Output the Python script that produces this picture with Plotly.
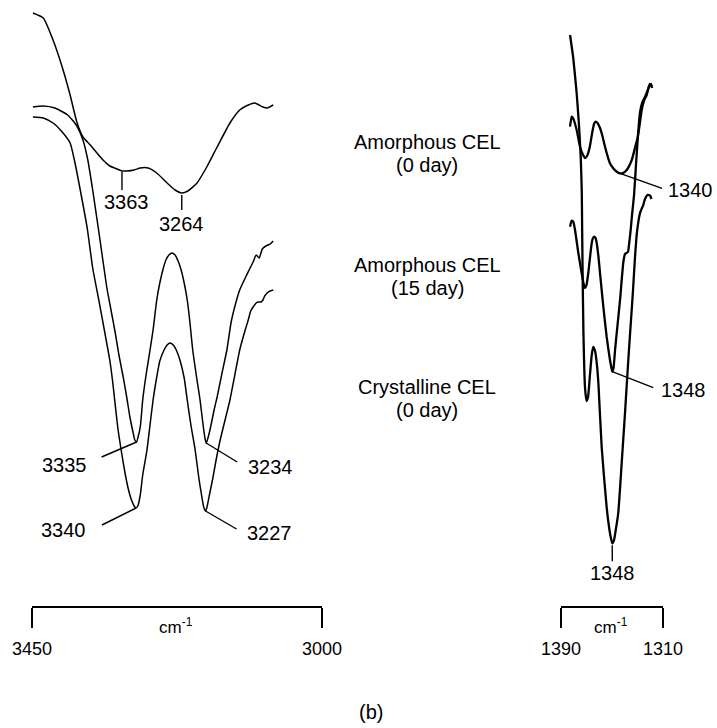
import numpy as np
import plotly.graph_objects as go

# ---------------- data ----------------
# Left panel: O-H stretching region, wavenumber (cm-1) vs transmittance (a.u., stacked)
oh_amorph0_wn = [3509, 3492, 3476, 3461, 3448, 3437, 3427, 3415, 3404, 3394, 3383, 3371, 3363, 3355, 3343, 3333,
                 3320, 3306, 3289, 3276, 3265, 3255, 3240, 3224, 3207, 3186, 3170, 3156, 3145, 3132, 3125, 3115]
oh_amorph0_t = [715, 710, 688, 661, 633, 606, 591, 583, 575, 568, 562, 559, 557, 557, 558, 560,
                560, 555, 545, 538, 535, 537, 545, 561, 581, 605, 618, 623, 625, 621, 620, 623]

oh_amorph15_wn = [3509, 3492, 3473, 3452, 3438, 3427, 3419, 3411, 3399, 3388, 3381, 3374, 3368, 3361, 3355, 3350,
                  3345, 3342, 3339, 3337, 3333, 3329, 3324, 3317, 3312, 3306, 3301, 3296, 3291, 3286, 3281, 3276,
                  3271, 3266, 3261, 3256, 3252, 3247, 3240, 3235, 3230, 3227, 3225, 3222, 3217, 3212, 3207, 3199,
                  3191, 3184, 3176, 3170, 3161, 3153, 3148, 3143, 3138, 3133, 3127, 3120, 3115]
oh_amorph15_t = [621, 622, 620, 613, 603, 588, 568, 538, 488, 441, 418, 395, 373, 351, 330, 311,
                 296, 288, 286, 290, 301, 328, 351, 378, 398, 428, 445, 458, 468, 473, 475, 473,
                 467, 458, 445, 428, 408, 378, 348, 328, 303, 290, 285, 290, 303, 318, 331, 355,
                 378, 406, 426, 438, 450, 460, 466, 473, 470, 479, 482, 484, 487]

oh_cryst_wn = [3509, 3492, 3476, 3461, 3448, 3440, 3432, 3420, 3411, 3401, 3391, 3383, 3378, 3370, 3363, 3358,
               3353, 3348, 3343, 3340, 3337, 3333, 3329, 3322, 3317, 3312, 3306, 3301, 3294, 3289, 3284, 3279,
               3274, 3268, 3261, 3256, 3250, 3243, 3237, 3232, 3229, 3226, 3224, 3219, 3214, 3209, 3202, 3194,
               3186, 3178, 3170, 3161, 3156, 3152, 3148, 3143, 3140, 3135, 3132, 3129, 3125, 3120, 3115]
oh_cryst_t = [611, 610, 605, 596, 585, 565, 540, 500, 460, 428, 395, 368, 345, 301, 273, 255,
              240, 229, 222, 220, 222, 233, 253, 278, 303, 328, 351, 367, 378, 383, 385, 383,
              378, 368, 350, 328, 303, 278, 250, 231, 221, 217, 220, 235, 250, 267, 288, 308,
              328, 353, 378, 398, 408, 417, 421, 425, 426, 426, 428, 432, 435, 437, 438]

# Right panel: 1390-1310 cm-1 region
ch_amorph0_wn = [1382.9, 1381.6, 1380.6, 1377.7, 1375.1, 1372.7, 1371.2, 1369.6, 1367.6, 1365.7, 1364.1, 1362.8,
                 1361.4, 1359.4, 1357.5, 1355.5, 1351.6, 1349.2, 1346.3, 1343.7, 1341.4, 1338.5, 1334.5, 1332.0,
                 1329.8, 1328.0, 1326.7, 1324.7, 1322.8, 1321.5, 1320.2, 1319.0]
ch_amorph0_t = [601.3, 611.3, 610, 598, 581.3, 573, 570, 572, 580, 594, 604, 606.3,
                605, 600, 592, 581.3, 564.7, 560, 556.3, 554.7, 555, 558, 568, 580,
                591, 606, 618, 628, 633, 640, 644, 642]

ch_amorph15_wn = [1382.9, 1381.6, 1380.4, 1379.0, 1376.4, 1373.8, 1372.4, 1371.2, 1370.0, 1368.6, 1367.3, 1365.9,
                  1364.9, 1363.9, 1362.9, 1362.0, 1360.6, 1359.4, 1356.8, 1354.2, 1351.6, 1350.4, 1349.8, 1348.8,
                  1347.6, 1346.3, 1343.7, 1341.1, 1339.8, 1337.5, 1336.7, 1335.5, 1334.3, 1332.7, 1331.2, 1329.6,
                  1328.0, 1326.1, 1324.1, 1322.2, 1320.6, 1319.4, 1318.6]
ch_amorph15_t = [501.3, 507.3, 506.3, 498, 475, 455, 445, 440, 443, 455, 470, 485,
                 490, 491.3, 490, 485, 471, 455, 421.3, 391.3, 368, 360, 356.3, 360,
                 378, 395, 428, 466, 474, 476, 483, 496, 513, 533, 563, 593,
                 616, 626, 631, 637, 642, 644, 640]

ch_cryst_wn = [1382.9, 1380.4, 1377.8, 1375.9, 1374.5, 1373.7, 1373.4, 1373.1, 1372.4, 1371.2, 1370.0, 1368.8,
               1367.3, 1365.9, 1364.7, 1363.3, 1361.8, 1360.6, 1358.1, 1354.2, 1351.6, 1349.8, 1348.4, 1347.3,
               1345.1, 1342.4, 1339.8, 1338.2, 1336.7, 1335.1, 1333.5, 1332.0, 1330.4, 1328.0, 1325.5, 1324.1,
               1322.2, 1320.2, 1319.0]
ch_cryst_t = [693, 670, 636, 603, 570, 536, 498, 461, 395, 341, 327, 331,
              353, 373, 381, 377, 363, 343, 281, 221, 195, 184.7, 188, 196,
              215, 265, 315, 348, 378, 408, 438, 470, 496, 515, 523, 529,
              533, 532.5, 529]

sample_labels = [("Amorphous CEL", "(0 day)"), ("Amorphous CEL", "(15 day)"), ("Crystalline CEL", "(0 day)")]
left_bar_ticks = [3450, 3000]
right_bar_ticks = [1390, 1310]

# ---------------- helpers ----------------
W, H = 717, 728
FONT = "Liberation Sans, Arial, Helvetica, sans-serif"


def trough(wn, t, lo, hi):
    wn = np.asarray(wn, float)
    t = np.asarray(t, float)
    idx = np.flatnonzero((wn >= lo) & (wn <= hi))
    i = idx[np.argmin(t[idx])]
    return float(wn[i]), float(t[i])


def nearest(wn, t, w0):
    wn = np.asarray(wn, float)
    i = int(np.argmin(np.abs(wn - w0)))
    return float(wn[i]), float(t[i])


fig = go.Figure()

for wn, t in [(oh_amorph0_wn, oh_amorph0_t), (oh_amorph15_wn, oh_amorph15_t), (oh_cryst_wn, oh_cryst_t)]:
    fig.add_trace(go.Scatter(x=wn, y=t, xaxis="x", yaxis="y", mode="lines",
                             line=dict(color="black", width=1.5, shape="spline", smoothing=0.5),
                             hoverinfo="skip", showlegend=False))

for wn, t in [(ch_amorph0_wn, ch_amorph0_t), (ch_amorph15_wn, ch_amorph15_t), (ch_cryst_wn, ch_cryst_t)]:
    fig.add_trace(go.Scatter(x=wn, y=t, xaxis="x2", yaxis="y", mode="lines",
                             line=dict(color="black", width=2.3, shape="spline", smoothing=0.5),
                             hoverinfo="skip", showlegend=False))

# invisible trace so the left scale-bar axis is drawn
fig.add_trace(go.Scatter(x=left_bar_ticks, y=[None, None], xaxis="x3", yaxis="y", mode="lines",
                         hoverinfo="skip", showlegend=False))

bar_pos = (H - 607) / H
bar_axis = dict(anchor="free", position=bar_pos, showline=True, linewidth=2, linecolor="black",
                ticks="outside", ticklen=20, tickwidth=2, tickcolor="black", showgrid=False,
                zeroline=False, tickfont=dict(family=FONT, size=18, color="black"),
                ticklabelstandoff=5, fixedrange=True, automargin=False)

fig.update_layout(
    width=W, height=H, margin=dict(l=0, r=0, t=0, b=0, pad=0, autoexpand=False),
    paper_bgcolor="white", plot_bgcolor="rgba(0,0,0,0)", showlegend=False,
    yaxis=dict(domain=[0, 1], range=[0, H], visible=False, fixedrange=True, automargin=False),
    xaxis=dict(domain=[0, 1], range=[3340 + 136 / 0.61, 3340 - 581 / 0.61], visible=False,
               anchor="y", fixedrange=True, automargin=False),
    xaxis2=dict(domain=[561 / W, 663 / W], range=[1390, 1310], tickvals=right_bar_ticks,
                ticktext=[str(v) for v in right_bar_ticks], **bar_axis),
    xaxis3=dict(domain=[32 / W, 322 / W], range=[3450, 3000], tickvals=left_bar_ticks,
                ticktext=[str(v) for v in left_bar_ticks], **bar_axis),
)

label_font = dict(family=FONT, size=20, color="black")
shapes, annos = [], []


def peak_label(xref, pt, text, lead, shift):
    wx, ty = pt
    shapes.append(dict(type="line", xref=xref, yref="y", xsizemode="pixel", ysizemode="pixel",
                       xanchor=wx, yanchor=ty, x0=lead[0], y0=lead[1], x1=lead[2], y1=lead[3],
                       line=dict(color="black", width=1.4)))
    annos.append(dict(x=wx, y=ty, xref=xref, yref="y", text=text, showarrow=False,
                      xshift=shift[0], yshift=shift[1], xanchor="center", yanchor="middle",
                      font=label_font))


peak_label("x", nearest(oh_amorph0_wn, oh_amorph0_t, 3363), "3363", (0, -1, 0, -19), (5, -31))
peak_label("x", trough(oh_amorph0_wn, oh_amorph0_t, 3230, 3300), "3264", (0, -2, 0, -17), (0, -31))
peak_label("x", trough(oh_amorph15_wn, oh_amorph15_t, 3300, 3400), "3335", (0, 0, -35, -15), (-72, -23))
peak_label("x", trough(oh_cryst_wn, oh_cryst_t, 3300, 3400), "3340", (0, 0, -34, -17), (-73, -22))
peak_label("x", trough(oh_amorph15_wn, oh_amorph15_t, 3180, 3260), "3234", (0, 0, 31, -19), (64, -24))
peak_label("x", trough(oh_cryst_wn, oh_cryst_t, 3180, 3260), "3227", (0, 0, 31, -18), (64, -22))
peak_label("x2", trough(ch_amorph0_wn, ch_amorph0_t, 1335, 1355), "1340", (0, 0, 42, -15), (70, -17))
peak_label("x2", trough(ch_amorph15_wn, ch_amorph15_t, 1340, 1360), "1348", (0, 0, 41, -16), (71, -18))
peak_label("x2", trough(ch_cryst_wn, ch_cryst_t, 1340, 1360), "1348", (0, -2, 0, -18), (0, -30))

# sample names in the middle
for (l1, l2), y1 in zip(sample_labels, [142, 265, 387]):
    for txt, yy in [(l1, y1), (l2, y1 + 23)]:
        annos.append(dict(x=427 / W, y=1 - yy / H, xref="paper", yref="paper", text=txt, showarrow=False,
                          xanchor="center", yanchor="middle", font=label_font))

# units on the scale bars
unit_font = dict(family=FONT, size=17, color="black")
annos.append(dict(x=3227, y=1 - 626 / H, xref="x3", yref="paper", text="cm<sup>-1</sup>", showarrow=False,
                  xanchor="center", yanchor="middle", font=unit_font))
annos.append(dict(x=1351, y=1 - 626 / H, xref="x2", yref="paper", text="cm<sup>-1</sup>", showarrow=False,
                  xanchor="center", yanchor="middle", font=unit_font))

# panel letter
annos.append(dict(x=371 / W, y=1 - 712 / H, xref="paper", yref="paper", text="(b)", showarrow=False,
                  xanchor="center", yanchor="middle", font=label_font))

fig.update_layout(shapes=shapes, annotations=annos)
fig.write_html("out.html", config={"displayModeBar": False})
